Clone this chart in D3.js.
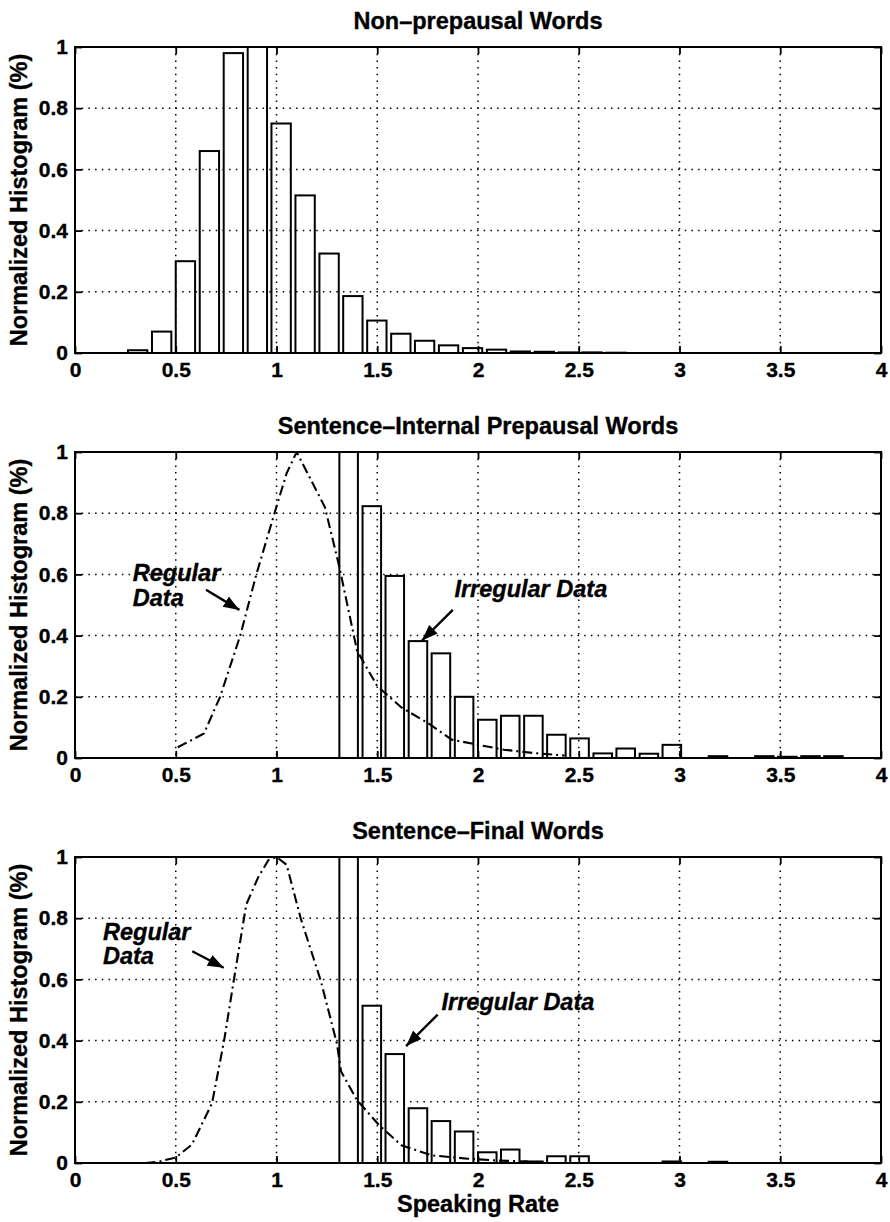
<!DOCTYPE html>
<html><head><meta charset="utf-8">
<script src="https://cdn.jsdelivr.net/npm/d3@7"></script>
<style>body{margin:0;background:#fff}</style>
</head><body><svg id="c" width="890" height="1222"></svg>
<script>
// ---------- data ----------
const xTickValues = [0, 0.5, 1, 1.5, 2, 2.5, 3, 3.5, 4];
const xTickLabels = ["0", "0.5", "1", "1.5", "2", "2.5", "3", "3.5", "4"];
const yTickValues = [0, 0.2, 0.4, 0.6, 0.8, 1];
const yTickLabels = ["0", "0.2", "0.4", "0.6", "0.8", "1"];
const panelTitles = ["Non\u2013prepausal Words", "Sentence\u2013Internal Prepausal Words", "Sentence\u2013Final Words"];
const yAxisLabel = "Normalized Histogram (%)";
const xAxisLabel = "Speaking Rate";

// Panel 1: non-prepausal histogram
const p1Centers = [0.311,0.430,0.548,0.667,0.786,0.905,1.023,1.142,1.261,1.379,1.498,1.617,1.735,1.854,1.973,2.092,2.210,2.329,2.448,2.566,2.685];
const p1Values  = [0.009,0.070,0.300,0.660,0.980,1.000,0.750,0.515,0.325,0.186,0.106,0.063,0.040,0.025,0.016,0.011,0.005,0.004,0.002,0.002,0.001];
const p1BarWidth = 0.096;

// Panel 2: sentence-internal prepausal (irregular histogram + regular curve)
const p2Centers = [1.358,1.473,1.587,1.702,1.816,1.931,2.046,2.160,2.275,2.389,2.504,2.619,2.733,2.848,2.962,3.077,3.191,3.306,3.421,3.535,3.650,3.764];
const p2Values  = [1.000,0.823,0.595,0.382,0.342,0.200,0.125,0.138,0.138,0.076,0.064,0.015,0.031,0.014,0.043,0.000,0.006,0.000,0.006,0.004,0.006,0.006];
const p2LineX = [0.51,0.64,0.72,0.82,0.90,0.99,1.05,1.10,1.24,1.31,1.40,1.50,1.62,1.75,1.87,2.00,2.13,2.28,2.43];
const p2LineY = [0.035,0.080,0.200,0.400,0.600,0.800,0.930,1.000,0.820,0.630,0.350,0.235,0.165,0.115,0.060,0.043,0.027,0.016,0.008];

// Panel 3: sentence-final
const p3Centers = [1.358,1.473,1.587,1.702,1.816,1.931,2.046,2.160,2.275,2.389,2.504,2.619,2.733,2.848,2.962,3.077,3.191];
const p3Values  = [1.000,0.514,0.356,0.179,0.137,0.103,0.035,0.044,0.005,0.022,0.022,0.000,0.000,0.000,0.005,0.000,0.004];
const p3LineX = [0.35,0.42,0.50,0.58,0.68,0.74,0.79,0.85,0.91,0.96,1.00,1.05,1.12,1.22,1.30,1.32,1.40,1.51,1.62,1.77,1.95,2.10,2.25];
const p3LineY = [0.000,0.005,0.018,0.060,0.195,0.400,0.605,0.845,0.935,0.990,1.000,0.975,0.800,0.595,0.390,0.300,0.205,0.123,0.058,0.025,0.014,0.008,0.005];
const p23BarWidth = 0.092;

// annotations (data coordinates)
const p2Notes = [
  {lines:["Regular","Data"], x:0.287, y:0.58, dy:0.082, ax1:0.65, ay1:0.55, ax2:0.816, ay2:0.484},
  {lines:["Irregular Data"], x:1.883, y:0.526, dy:0, ax1:1.875, ay1:0.484, ax2:1.722, ay2:0.384}
];
const p3Notes = [
  {lines:["Regular","Data"], x:0.139, y:0.729, dy:0.078, ax1:0.582, ay1:0.692, ax2:0.738, ay2:0.638},
  {lines:["Irregular Data"], x:1.819, y:0.50, dy:0, ax1:1.80, ay1:0.485, ax2:1.643, ay2:0.382}
];

// ---------- layout ----------
const W = 890, H = 1222;
const left = 75, right = 881, plotH = 306;
const tops = [47, 452, 857];
const FONT = "'Liberation Sans', Arial, Helvetica, sans-serif";
const BIG = 23.5, TICK = 21;

const svg = d3.select("#c");
svg.append("rect").attr("width", W).attr("height", H).attr("fill", "#fff");

const defs = svg.append("defs");
defs.append("marker").attr("id", "ah")
  .attr("markerUnits", "userSpaceOnUse")
  .attr("markerWidth", 18).attr("markerHeight", 14)
  .attr("refX", 16).attr("refY", 6).attr("orient", "auto")
  .append("path").attr("d", "M0,0 L16,6 L0,12 Z").attr("fill", "#000");

const x = d3.scaleLinear().domain([0, 4]).range([left, right]);

function boldText(sel, size) {
  return sel.attr("font-family", FONT).attr("font-size", size).attr("font-weight", "bold")
    .attr("fill", "#000").attr("stroke", "#000").attr("stroke-width", 0.35);
}

const panels = [
  {centers: p1Centers, values: p1Values, bw: p1BarWidth, lx: null, ly: null, notes: []},
  {centers: p2Centers, values: p2Values, bw: p23BarWidth, lx: p2LineX, ly: p2LineY, notes: p2Notes},
  {centers: p3Centers, values: p3Values, bw: p23BarWidth, lx: p3LineX, ly: p3LineY, notes: p3Notes}
];

panels.forEach((p, i) => {
  const top = tops[i], bottom = top + plotH;
  const y = d3.scaleLinear().domain([0, 1]).range([bottom, top]);
  const g = svg.append("g");

  const cid = "clip" + i;
  defs.append("clipPath").attr("id", cid).append("rect")
    .attr("x", left).attr("y", top).attr("width", right - left).attr("height", plotH);

  // grid
  const grid = g.append("g").attr("stroke", "#000").attr("stroke-width", 1.5)
    .attr("stroke-dasharray", "1.5,5.2");
  xTickValues.slice(1, -1).forEach(v => {
    grid.append("line").attr("x1", x(v)).attr("x2", x(v)).attr("y1", top).attr("y2", bottom);
  });
  yTickValues.slice(1, -1).forEach(v => {
    grid.append("line").attr("x1", left).attr("x2", right).attr("y1", y(v)).attr("y2", y(v));
  });

  const plot = g.append("g").attr("clip-path", `url(#${cid})`);

  // bars
  plot.selectAll("rect.bar").data(p.centers.map((c, k) => ({c, v: p.values[k]})))
    .join("rect").attr("class", "bar")
    .attr("x", d => x(d.c - p.bw / 2))
    .attr("width", d => x(d.c + p.bw / 2) - x(d.c - p.bw / 2))
    .attr("y", d => y(d.v))
    .attr("height", d => y(0) - y(d.v))
    .attr("fill", "none").attr("stroke", "#000").attr("stroke-width", 2);

  // regular-data curve
  if (p.lx) {
    const pts = p.lx.map((v, k) => [v, p.ly[k]]);
    plot.append("path").datum(pts)
      .attr("d", d3.line().x(d => x(d[0])).y(d => y(d[1])))
      .attr("fill", "none").attr("stroke", "#000").attr("stroke-width", 2.1)
      .attr("stroke-dasharray", "10,4,2,4");
  }

  // axes (inward ticks on all four sides)
  const fmtX = d => xTickLabels[xTickValues.indexOf(d)];
  const fmtY = d => yTickLabels[yTickValues.indexOf(d)];
  const ax = [
    g.append("g").attr("transform", `translate(0,${bottom})`)
      .call(d3.axisBottom(x).tickValues(xTickValues).tickFormat(fmtX).tickSizeInner(-7).tickSizeOuter(0).tickPadding(6)),
    g.append("g").attr("transform", `translate(0,${top})`)
      .call(d3.axisTop(x).tickValues(xTickValues).tickFormat("").tickSizeInner(-7).tickSizeOuter(0)),
    g.append("g").attr("transform", `translate(${left},0)`)
      .call(d3.axisLeft(y).tickValues(yTickValues).tickFormat(fmtY).tickSizeInner(-7).tickSizeOuter(0).tickPadding(7)),
    g.append("g").attr("transform", `translate(${right},0)`)
      .call(d3.axisRight(y).tickValues(yTickValues).tickFormat("").tickSizeInner(-7).tickSizeOuter(0))
  ];
  ax.forEach(a => {
    a.select(".domain").remove();
    a.selectAll(".tick line").attr("stroke", "#000").attr("stroke-width", 1.8);
    boldText(a.selectAll("text"), TICK);
  });
  ax[0].selectAll("text").attr("dy", "0.85em");

  // frame
  g.append("rect").attr("x", left).attr("y", top).attr("width", right - left).attr("height", plotH)
    .attr("fill", "none").attr("stroke", "#000").attr("stroke-width", 2);

  // title
  boldText(g.append("text").attr("x", (left + right) / 2).attr("y", top - 18)
    .attr("text-anchor", "middle"), BIG).text(panelTitles[i]);

  // y label
  boldText(g.append("text").attr("transform", `translate(27,${(top + bottom) / 2}) rotate(-90)`)
    .attr("text-anchor", "middle"), BIG).text(yAxisLabel);

  // annotations
  p.notes.forEach(n => {
    n.lines.forEach((t, j) => {
      boldText(g.append("text").attr("x", x(n.x)).attr("y", y(n.y - j * n.dy))
        .attr("font-style", "italic"), BIG).text(t);
    });
    g.append("line").attr("x1", x(n.ax1)).attr("y1", y(n.ay1))
      .attr("x2", x(n.ax2)).attr("y2", y(n.ay2))
      .attr("stroke", "#000").attr("stroke-width", 2.4).attr("marker-end", "url(#ah)");
  });

  if (i === 2) {
    boldText(g.append("text").attr("x", (left + right) / 2).attr("y", 1212)
      .attr("text-anchor", "middle"), BIG).text(xAxisLabel);
  }
});
</script></body></html>
